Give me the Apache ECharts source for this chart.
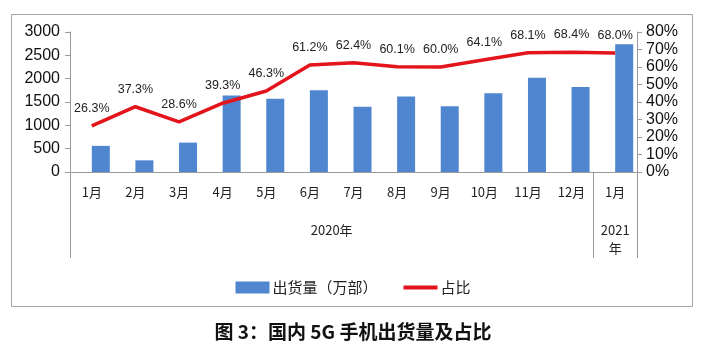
<!DOCTYPE html>
<html>
<head>
<meta charset="utf-8">
<script src="https://cdn.jsdelivr.net/npm/echarts@6/dist/echarts.min.js"></script>
<style>html,body{margin:0;padding:0;background:#fff}#c{width:706px;height:348px}</style>
</head>
<body>
<div id="c"></div>
<script>
const months = ['1月','2月','3月','4月','5月','6月','7月','8月','9月','10月','11月','12月','1月'];
const shipments = [560, 250, 630, 1640, 1570, 1750, 1400, 1620, 1410, 1690, 2020, 1820, 2740];
const share = [26.3, 37.3, 28.6, 39.3, 46.3, 61.2, 62.4, 60.1, 60.0, 64.1, 68.1, 68.4, 68.0];
const yearLabels = ['2020年', '2021\n年'];
const yearLabelPos = [6, 12.5];
const yearBounds = [0, 12, 13];
const seriesNames = ['出货量（万部）', '占比'];
const titleText = '图 3：国内 5G 手机出货量及占比';

const chart = echarts.init(document.getElementById('c'), null, {renderer: 'canvas'});
const axisGray = '#9a9a9a';
const numFont = 'Liberation Sans';
const cjkFont = 'Noto Sans CJK SC';
const red = '#e3141b';

chart.setOption({
  backgroundColor: '#fff',
  animation: false,
  title: {
    text: titleText, left: 'center', top: 317,
    textStyle: {fontFamily: cjkFont, fontSize: 19, fontWeight: 'bold', color: '#111'}
  },
  graphic: [{
    type: 'rect', shape: {x: 11.5, y: 14.5, width: 681, height: 292},
    style: {fill: 'none', stroke: '#a6a6a6', lineWidth: 1}, silent: true
  }],
  legend: {
    data: [
      {name: seriesNames[0], icon: 'rect'},
      {name: seriesNames[1], icon: 'path://M0,0H34V4H0Z'}
    ],
    top: 275, left: 'center', itemWidth: 34, itemHeight: 12, itemGap: 26,
    textStyle: {fontFamily: cjkFont, fontSize: 15, color: '#222', padding: [0,0,0,-2]}
  },
  grid: {left: 70, right: 69, top: 32, bottom: 176, containLabel: false},
  xAxis: [{
    type: 'category', data: months, position: 'bottom',
    axisLine: {lineStyle: {color: axisGray}},
    axisTick: {length: 33, lineStyle: {color: axisGray}},
    axisLabel: {fontFamily: cjkFont, fontSize: 13, color: '#222', margin: 14, interval: 0}
  }, {
    type: 'value', min: 0, max: 13, position: 'bottom', offset: 0,
    axisLine: {show: false}, splitLine: {show: false},
    axisTick: {show: true, customValues: yearBounds, length: 86, lineStyle: {color: axisGray}},
    axisLabel: {
      customValues: yearLabelPos, fontFamily: cjkFont, fontSize: 13, color: '#222',
      margin: 49, lineHeight: 18,
      formatter: v => yearLabels[yearLabelPos.indexOf(v)] || ''
    }
  }],
  yAxis: [{
    type: 'value', min: 0, max: 3000, interval: 500, position: 'left',
    axisLine: {show: true, lineStyle: {color: axisGray}},
    axisTick: {show: true, length: 5, lineStyle: {color: axisGray}},
    splitLine: {show: false},
    axisLabel: {fontFamily: numFont, fontSize: 16, color: '#111', margin: 10, formatter: v => String(v)}
  }, {
    type: 'value', min: 0, max: 80, interval: 10, position: 'right',
    axisLine: {show: true, lineStyle: {color: axisGray}},
    axisTick: {show: true, length: 5, lineStyle: {color: axisGray}},
    splitLine: {show: false},
    axisLabel: {fontFamily: numFont, fontSize: 16, color: '#111', margin: 9, formatter: v => v + '%'}
  }],
  series: [{
    name: 'gap', type: 'bar', data: months.map(() => null), barWidth: 18, barGap: '0%',
    silent: true
  }, {
    name: seriesNames[0], type: 'bar', data: shipments, barWidth: 18, barGap: '0%',
    itemStyle: {color: '#4f86cf'}
  }, {
    name: seriesNames[1], type: 'line', yAxisIndex: 1, data: share,
    symbol: 'circle', symbolSize: 0.1, showSymbol: true,
    lineStyle: {color: red, width: 3.5}, itemStyle: {color: red},
    label: {
      show: true, position: 'top', distance: 11,
      fontFamily: numFont, fontSize: 12.5, color: '#222',
      formatter: p => p.value.toFixed(1) + '%'
    }
  }]
});
</script>
</body>
</html>
